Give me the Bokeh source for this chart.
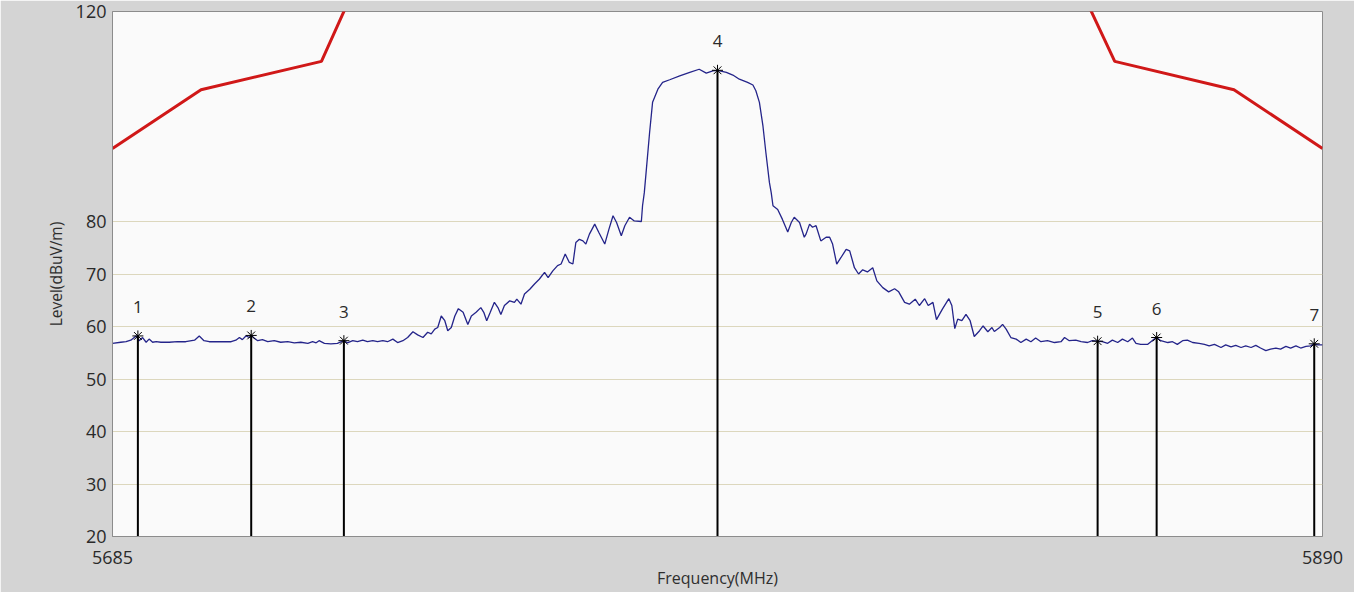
from bokeh.plotting import figure
from bokeh.models import Range1d, FixedTicker
from bokeh.embed import file_html
from bokeh.resources import INLINE
from bokeh.core.properties import value

# ---- data ----
x_ticks = [5685, 5890]
y_ticks = [20, 30, 40, 50, 60, 70, 80, 120]

trace_freq = [
    5685.0, 5686.4, 5687.3, 5688.1, 5689.0, 5689.5, 5690.1, 5690.7, 5691.2, 5691.8,
    5692.4, 5693.2, 5694.6, 5696.0, 5697.4, 5698.9, 5699.7, 5700.5, 5701.4, 5702.8,
    5704.2, 5705.1, 5705.9, 5706.5, 5707.0, 5707.6, 5708.2, 5708.5, 5709.0, 5709.6,
    5710.4, 5711.3, 5712.4, 5713.5, 5714.7, 5715.8, 5716.9, 5718.1, 5718.9, 5719.5,
    5720.0, 5720.9, 5722.0, 5723.1, 5724.2, 5724.8, 5725.7, 5726.5, 5727.4, 5728.2,
    5729.1, 5729.9, 5730.8, 5731.6, 5732.5, 5733.3, 5734.2, 5735.0, 5735.9, 5736.7,
    5737.6, 5738.4, 5739.0, 5739.6, 5740.1, 5740.7, 5741.3, 5741.8, 5742.4, 5743.0,
    5743.6, 5744.4, 5745.2, 5745.8, 5746.6, 5747.4, 5747.9, 5748.4, 5749.0, 5749.7,
    5750.3, 5750.8, 5751.4, 5752.3, 5753.1, 5753.5, 5754.2, 5754.8, 5755.7, 5756.5,
    5757.3, 5758.2, 5758.8, 5759.6, 5760.4, 5761.0, 5761.7, 5762.4, 5763.0, 5763.5,
    5764.1, 5764.7, 5765.2, 5765.8, 5766.7, 5767.4, 5768.4, 5769.1, 5769.8, 5770.4,
    5771.2, 5771.8, 5772.6, 5773.4, 5774.6, 5774.8, 5775.1, 5775.4, 5776.0, 5776.5,
    5777.4, 5778.2, 5779.4, 5781.1, 5782.8, 5784.4, 5785.6, 5786.7, 5787.5, 5789.0,
    5790.1, 5791.2, 5792.6, 5793.5, 5794.0, 5794.6, 5795.2, 5795.7, 5796.3, 5796.6,
    5796.9, 5797.7, 5798.5, 5799.4, 5800.0, 5800.5, 5801.4, 5802.2, 5802.5, 5803.1,
    5803.6, 5804.2, 5805.0, 5805.9, 5806.5, 5807.0, 5807.7, 5808.4, 5809.3, 5809.9,
    5810.7, 5811.4, 5812.1, 5812.9, 5813.8, 5814.5, 5815.5, 5816.5, 5817.5, 5818.2,
    5819.2, 5820.0, 5821.0, 5821.7, 5822.6, 5823.2, 5824.0, 5824.6, 5825.6, 5826.7,
    5827.2, 5827.7, 5828.2, 5828.9, 5829.6, 5830.3, 5831.0, 5831.9, 5832.5, 5833.3,
    5834.0, 5834.4, 5835.3, 5835.8, 5836.4, 5837.2, 5838.1, 5838.9, 5839.8, 5840.6,
    5841.4, 5842.3, 5843.4, 5844.6, 5845.7, 5846.3, 5847.1, 5848.2, 5849.1, 5850.2,
    5851.0, 5851.9, 5852.7, 5853.6, 5854.4, 5855.3, 5856.1, 5857.0, 5857.8, 5858.4,
    5859.2, 5860.4, 5861.5, 5861.9, 5862.6, 5863.8, 5864.6, 5865.4, 5866.3, 5867.1,
    5868.0, 5869.1, 5870.0, 5870.8, 5871.7, 5872.8, 5873.6, 5874.5, 5875.3, 5876.2,
    5877.0, 5877.9, 5878.7, 5879.5, 5880.4, 5881.2, 5882.1, 5882.9, 5883.8, 5884.6,
    5885.5, 5886.3, 5887.2, 5888.0, 5888.6, 5889.2, 5890.0,
]
trace_level = [
    56.8, 57.0, 57.1, 57.4, 58.2, 57.3, 57.9, 57.0, 57.6, 57.0,
    57.1, 57.0, 57.0, 57.1, 57.1, 57.4, 58.2, 57.3, 57.1, 57.1,
    57.1, 57.1, 57.4, 57.9, 57.5, 58.2, 57.9, 58.3, 57.8, 57.3,
    57.5, 57.1, 57.3, 57.0, 57.1, 56.9, 57.0, 56.8, 57.1, 56.9,
    57.3, 56.8, 56.7, 56.8, 57.3, 56.9, 57.3, 57.1, 57.4, 57.1,
    57.3, 57.1, 57.3, 57.1, 57.6, 56.95, 57.3, 57.9, 59.0, 58.4,
    57.9, 58.9, 58.6, 59.5, 59.8, 62.0, 61.1, 59.2, 59.8, 62.0,
    63.4, 62.7, 60.4, 62.0, 62.7, 63.6, 62.7, 61.1, 62.7, 64.6,
    63.6, 62.3, 64.0, 64.9, 64.6, 65.2, 64.25, 66.2, 67.1, 68.1,
    69.0, 70.3, 69.3, 70.6, 71.6, 71.9, 73.8, 72.2, 71.9, 76.0,
    76.6, 76.3, 75.7, 77.6, 79.5, 77.9, 75.7, 78.5, 81.1, 79.8,
    77.3, 79.2, 80.8, 80.1, 80.0, 83.0, 85.5, 89.3, 97.0, 102.7,
    105.2, 106.5, 107.0, 107.75, 108.4, 109.0, 108.25, 108.7, 108.8, 108.4,
    107.9, 107.1, 106.5, 106.0, 104.9, 102.7, 98.2, 93.1, 87.4, 85.5,
    83.0, 82.3, 80.4, 78.0, 79.8, 80.8, 79.8, 77.0, 77.6, 79.5,
    78.9, 79.2, 76.3, 77.0, 77.0, 75.7, 71.9, 73.1, 74.7, 74.4,
    71.2, 70.0, 70.8, 70.4, 71.2, 68.7, 67.4, 66.6, 67.2, 66.6,
    64.6, 64.25, 65.2, 64.0, 65.3, 64.0, 64.6, 61.3, 63.3, 65.3,
    64.0, 59.6, 61.4, 61.1, 62.3, 61.1, 58.1, 59.2, 60.1, 59.0,
    59.8, 59.05, 59.8, 60.4, 59.5, 57.9, 57.6, 56.95, 57.6, 57.1,
    57.8, 57.1, 57.3, 56.95, 57.1, 57.9, 57.3, 57.4, 57.1, 56.95,
    57.3, 57.2, 57.1, 56.8, 57.4, 56.95, 57.6, 57.1, 57.8, 56.8,
    56.6, 56.6, 57.6, 57.9, 57.3, 56.95, 57.1, 56.6, 57.3, 57.4,
    56.95, 56.8, 56.6, 56.3, 56.6, 56.0, 56.5, 56.1, 56.4, 56.0,
    56.3, 56.0, 56.4, 55.9, 55.4, 55.7, 55.9, 55.7, 56.2, 55.9,
    56.3, 55.9, 56.2, 56.3, 56.7, 56.5, 56.5,
]

mask_freq = [5685, 5700, 5720.4, 5725, 5850, 5854.8, 5875, 5890]
mask_level = [93.9, 105.1, 110.5, 122.0, 122.0, 110.5, 105.1, 93.9]

marker_freq = [5689.3, 5708.5, 5724.2, 5787.5, 5851.9, 5861.9, 5888.6]
marker_level = [58.2, 58.3, 57.3, 108.8, 57.2, 57.9, 56.7]
marker_labels = ["1", "2", "3", "4", "5", "6", "7"]

x_title = "Frequency(MHz)"
y_title = "Level(dBuV/m)"

FONT = "Open Sans"

p = figure(width=1354, height=592,
           x_range=Range1d(5685, 5890), y_range=Range1d(20, 120),
           output_backend="svg", toolbar_location=None,
           min_border_left=112, min_border_right=32,
           min_border_top=11, min_border_bottom=56)

p.background_fill_color = "#fafafa"
p.border_fill_color = "#d4d4d4"
p.outline_line_color = "#8c8c8c"
p.outline_line_width = 1

# axes
p.xaxis.ticker = FixedTicker(ticks=x_ticks)
p.yaxis.ticker = FixedTicker(ticks=y_ticks)
for ax in (p.xaxis, p.yaxis):
    ax.major_tick_in = 0
    ax.major_tick_out = 0
    ax.minor_tick_line_color = None
    ax.axis_line_color = "#8c8c8c"
    ax.major_label_text_font = FONT
    ax.major_label_text_font_size = "18px"
    ax.major_label_text_color = "#2a2a2a"
    ax.axis_label_text_font = FONT
    ax.axis_label_text_font_style = "normal"
    ax.axis_label_text_color = "#2e2e2e"

p.xaxis.axis_label = x_title
p.yaxis.axis_label = y_title
p.xaxis.axis_label_text_font_size = "16px"
p.yaxis.axis_label_text_font_size = "15.5px"
p.xaxis.major_label_standoff = 14
p.xaxis.axis_label_standoff = 0
p.yaxis.major_label_standoff = 6
p.yaxis.axis_label_standoff = 6

p.xgrid.grid_line_color = None
p.ygrid.grid_line_color = "#dcd7bd"
p.ygrid.grid_line_width = 1

# limit mask
p.line(mask_freq, mask_level, line_color="#d01818", line_width=3)

# measured trace
p.line(trace_freq, trace_level, line_color="#24248a", line_width=1.3)

# markers
p.segment(x0=marker_freq, y0=[20] * len(marker_freq), x1=marker_freq, y1=marker_level,
          line_color="black", line_width=2)
p.scatter(marker_freq, marker_level, marker="asterisk", size=11,
          line_color="black", line_width=1)
p.text(x=marker_freq, y=marker_level, text=marker_labels,
       y_offset=-29, text_align="center", text_baseline="middle",
       text_font=value(FONT), text_font_size="17px", text_color="#2a2a2a")

open("out.html", "w").write(file_html(p, INLINE))
